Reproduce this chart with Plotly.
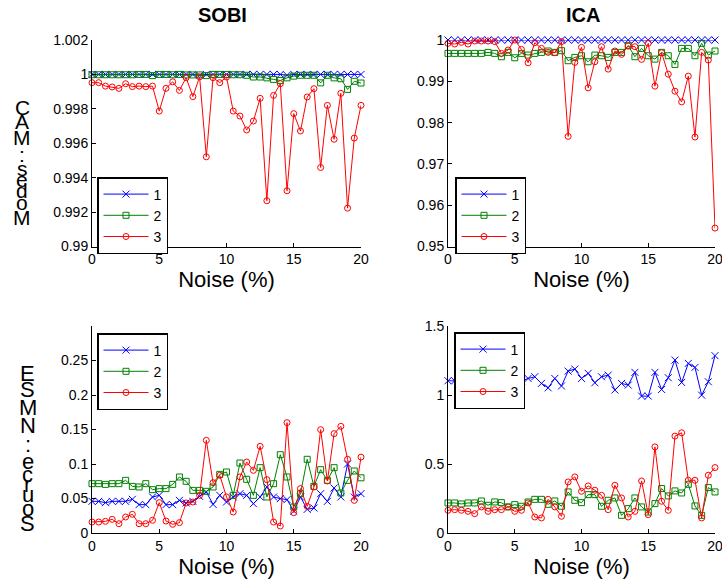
import plotly.graph_objects as go

noise = [0, 0.5, 1, 1.5, 2, 2.5, 3, 3.5, 4, 4.5, 5, 5.5, 6, 6.5, 7, 7.5, 8, 8.5, 9, 9.5,
         10, 10.5, 11, 11.5, 12, 12.5, 13, 13.5, 14, 14.5, 15, 15.5, 16, 16.5, 17, 17.5, 18, 18.5, 19, 19.5, 20]

# SOBI - Modes : MAC
sobi_mac_1 = [1.0, 1.0, 1.0, 1.0, 1.0, 1.0, 1.0, 1.0, 1.0, 1.0, 1.0, 1.0, 1.0, 1.0, 1.0, 1.0, 0.99995, 1.0, 1.0, 1.0,
              1.0, 1.0, 1.0, 1.0, 1.0, 1.0, 1.0, 1.0, 1.0, 0.99995, 1.0, 1.0, 1.0, 1.0, 1.0, 1.0, 1.0, 1.0, 1.0, 1.0, 1.0]
sobi_mac_2 = [0.99998, 0.99998, 0.99998, 0.99998, 0.99998, 0.99998, 0.99998, 1.0, 1.0, 0.99993, 1.0, 1.0, 0.99998, 1.0, 0.99997, 0.99997, 0.99997, 0.99993, 1.0, 1.0,
              1.0, 0.99998, 0.99998, 0.99995, 0.99985, 0.99985, 0.9998, 0.99971, 0.99965, 0.9998, 0.9999, 0.99995, 0.99995, 0.99995, 0.99951, 0.99995, 0.9998, 0.99975, 0.99913, 0.9996, 0.9995]
sobi_mac_3 = [0.99952, 0.99952, 0.99932, 0.99927, 0.99919, 0.99946, 0.99929, 0.99932, 0.99929, 0.99932, 0.99787, 0.99919, 0.99957, 0.99907, 0.99981, 0.99871, 0.99986, 0.99521, 0.99981, 0.99952,
              0.99985, 0.99787, 0.99758, 0.99677, 0.99729, 0.99861, 0.99266, 0.99878, 0.99946, 0.99324, 0.99772, 0.99671, 0.99869, 0.99917, 0.99459, 0.9982, 0.99623, 0.9989, 0.99223, 0.9963, 0.9982]

# ICA - Modes : MAC
ica_mac_1 = [1.0] * 41
ica_mac_2 = [0.99676, 0.99676, 0.99676, 0.99676, 0.99676, 0.99676, 0.997, 0.99676, 0.99595, 0.997, 0.9957, 0.99676, 0.99635, 0.99676, 0.997, 0.99733, 0.997, 0.99741, 0.99498, 0.99579,
             0.99619, 0.99473, 0.99635, 0.99619, 0.99579, 0.997, 0.997, 0.99862, 0.99595, 0.99797, 0.99619, 0.99538, 0.997, 0.99619, 0.99408, 0.99797, 0.99797, 0.99619, 0.99919, 0.99635, 0.99733]
ica_mac_3 = [0.99919, 0.99903, 0.99943, 0.99903, 0.99976, 0.99976, 0.99976, 0.9996, 0.99676, 0.99757, 1.0, 0.99773, 0.99449, 0.99935, 0.99797, 0.997, 0.99692, 0.9996, 0.97666, 0.99457,
             0.99822, 0.98841, 0.99473, 0.99838, 0.99295, 0.99733, 0.99652, 0.99854, 0.99838, 0.9953, 0.99919, 0.98882, 0.99692, 0.99173, 0.9876, 0.98501, 0.99125, 0.9765, 0.997, 0.99514, 0.95446]

# SOBI - Source : NMSE
sobi_nmse_1 = [0.0459, 0.0459, 0.044, 0.0459, 0.0459, 0.0459, 0.0488, 0.0411, 0.0411, 0.0522, 0.0546, 0.0411, 0.0411, 0.0473, 0.0435, 0.0459, 0.0531, 0.0594, 0.0415, 0.0546,
               0.0449, 0.0522, 0.057, 0.0546, 0.0425, 0.0522, 0.0667, 0.0522, 0.0498, 0.0483, 0.0319, 0.0522, 0.0343, 0.0362, 0.057, 0.0459, 0.0652, 0.0522, 0.1, 0.052, 0.057]
sobi_nmse_2 = [0.0715, 0.0715, 0.0705, 0.0715, 0.0715, 0.0763, 0.0676, 0.0667, 0.0715, 0.0628, 0.0643, 0.0643, 0.0705, 0.0812, 0.0749, 0.0618, 0.0618, 0.0604, 0.0667, 0.085,
               0.0884, 0.0546, 0.1014, 0.0778, 0.0546, 0.0947, 0.0522, 0.0715, 0.1135, 0.0812, 0.0377, 0.057, 0.1068, 0.0676, 0.0918, 0.0763, 0.0947, 0.058, 0.0763, 0.0899, 0.08]
sobi_nmse_3 = [0.0159, 0.0159, 0.0169, 0.0198, 0.0135, 0.0232, 0.0271, 0.0135, 0.0135, 0.0184, 0.044, 0.0174, 0.0126, 0.015, 0.0435, 0.0449, 0.0546, 0.1343, 0.0729, 0.0836,
               0.0522, 0.0304, 0.0812, 0.1029, 0.0908, 0.1256, 0.0773, 0.0159, 0.0101, 0.1599, 0.0295, 0.0643, 0.0386, 0.0667, 0.1498, 0.0754, 0.144, 0.1546, 0.1068, 0.0473, 0.11]

# ICA - Source : NMSE
ica_nmse_1 = [1.103, 1.103, 1.1, 1.1, 1.1, 1.1, 1.1, 1.1, 1.1, 1.1, 1.1, 1.1, 1.12, 1.132, 1.084, 1.052, 1.12, 1.065, 1.173, 1.188,
              1.12, 1.157, 1.089, 1.132, 1.144, 1.036, 1.084, 1.072, 1.164, 0.992, 0.992, 1.164, 1.04, 1.125, 1.253, 1.091, 1.229, 1.2, 0.999, 1.096, 1.285]
ica_nmse_2 = [0.2178, 0.2178, 0.2105, 0.2178, 0.2178, 0.232, 0.2008, 0.225, 0.22, 0.189, 0.2057, 0.1936, 0.225, 0.244, 0.244, 0.208, 0.232, 0.1936, 0.2976, 0.237,
              0.22, 0.278, 0.278, 0.1936, 0.237, 0.254, 0.128, 0.1766, 0.254, 0.189, 0.152, 0.213, 0.322, 0.2686, 0.305, 0.29, 0.353, 0.196, 0.128, 0.329, 0.2976]
ica_nmse_3 = [0.1645, 0.169, 0.1645, 0.157, 0.14, 0.189, 0.157, 0.169, 0.169, 0.189, 0.157, 0.1645, 0.218, 0.116, 0.109, 0.244, 0.189, 0.121, 0.37, 0.4065,
              0.302, 0.341, 0.31, 0.273, 0.169, 0.346, 0.254, 0.116, 0.157, 0.377, 0.133, 0.624, 0.23, 0.1645, 0.702, 0.726, 0.382, 0.382, 0.109, 0.4186, 0.474]

series_names = ["1", "2", "3"]
col_titles = ["SOBI", "ICA"]
x_title = "Noise (%)"
ylabels = ["Modes : MAC", "Source : NMSE"]

W, H = 722, 584
FONT = "Liberation Sans, Arial, sans-serif"

colors = ["#0000FF", "#008000", "#FF0000"]
markers = [dict(symbol="x-thin", size=7, line=dict(width=1, color=colors[0])),
           dict(symbol="square-open", size=6, line=dict(width=1), color=colors[1]),
           dict(symbol="circle-open", size=6, line=dict(width=1), color=colors[2])]

panels = [
    ("x", "y", [sobi_mac_1, sobi_mac_2, sobi_mac_3], "legend"),
    ("x2", "y2", [ica_mac_1, ica_mac_2, ica_mac_3], "legend2"),
    ("x3", "y3", [sobi_nmse_1, sobi_nmse_2, sobi_nmse_3], "legend3"),
    ("x4", "y4", [ica_nmse_1, ica_nmse_2, ica_nmse_3], "legend4"),
]

fig = go.Figure()
for xa, ya, data, lg in panels:
    for i, vals in enumerate(data):
        fig.add_trace(go.Scatter(x=noise, y=vals, xaxis=xa, yaxis=ya, mode="lines+markers",
                                 name=series_names[i], legend=lg,
                                 line=dict(color=colors[i], width=1), marker=markers[i],
                                 cliponaxis=False))

xdom_l = [92 / W, 361 / W]
xdom_r = [448 / W, 715 / W]
ydom_t = [1 - 246.5 / H, 1 - 40 / H]
ydom_b = [1 - 533 / H, 1 - 326 / H]

axis_common = dict(showline=True, linecolor="black", linewidth=1, ticks="inside", ticklen=4,
                   tickcolor="black", showgrid=False, zeroline=False, mirror=False, automargin=False,
                   ticklabeloverflow="allow",
                   tickfont=dict(family=FONT, size=14, color="black"))

xaxis_common = dict(axis_common, range=[0, 20], tickvals=[0, 5, 10, 15, 20], ticktext=["0", "5", "10", "15", "20"],
                    title=dict(text=x_title, font=dict(family=FONT, size=22, color="black"), standoff=3))

fig.update_layout(
    width=W, height=H, margin=dict(l=0, r=0, t=0, b=0, autoexpand=False),
    paper_bgcolor="white", plot_bgcolor="white",
    font=dict(family=FONT, color="black"),
    xaxis=dict(xaxis_common, domain=xdom_l, anchor="y"),
    xaxis2=dict(xaxis_common, domain=xdom_r, anchor="y2"),
    xaxis3=dict(xaxis_common, domain=xdom_l, anchor="y3"),
    xaxis4=dict(xaxis_common, domain=xdom_r, anchor="y4"),
    yaxis=dict(axis_common, domain=ydom_t, anchor="x", range=[0.99, 1.002],
               tickvals=[0.99, 0.992, 0.994, 0.996, 0.998, 1.0, 1.002],
               ticktext=["0.99", "0.992", "0.994", "0.996", "0.998", "1", "1.002"]),
    yaxis2=dict(axis_common, domain=ydom_t, anchor="x2", range=[0.95, 1.0],
                tickvals=[0.95, 0.96, 0.97, 0.98, 0.99, 1.0],
                ticktext=["0.95", "0.96", "0.97", "0.98", "0.99", "1"]),
    yaxis3=dict(axis_common, domain=ydom_b, anchor="x3", range=[0, 0.3],
                tickvals=[0, 0.05, 0.1, 0.15, 0.2, 0.25],
                ticktext=["0", "0.05", "0.1", "0.15", "0.2", "0.25"]),
    yaxis4=dict(axis_common, domain=ydom_b, anchor="x4", range=[0, 1.5],
                tickvals=[0, 0.5, 1, 1.5], ticktext=["0", "0.5", "1", "1.5"]),
)

leg_common = dict(bgcolor="white", bordercolor="black", borderwidth=1.5, xanchor="left", yanchor="top",
                  font=dict(family=FONT, size=14, color="black"), itemwidth=45, tracegroupgap=0)
fig.update_layout(
    legend=dict(leg_common, x=97 / W, y=1 - 177 / H),
    legend2=dict(leg_common, x=455 / W, y=1 - 177 / H),
    legend3=dict(leg_common, x=97 / W, y=1 - 333 / H),
    legend4=dict(leg_common, x=454 / W, y=1 - 332 / H),
)

# column titles
for title, cx in zip(col_titles, [222, 583]):
    fig.add_annotation(text="<b>%s</b>" % title, x=cx / W, y=1 - 15 / H, xref="paper", yref="paper",
                       xanchor="center", yanchor="middle",
                       showarrow=False, font=dict(family=FONT, size=20, color="black"))

# stacked y labels: upright characters stacked bottom-to-top at their text advance positions
ADV = {"M": 0.833, "o": 0.556, "d": 0.556, "e": 0.556, "s": 0.5, " ": 0.278, ":": 0.278, "A": 0.667,
       "C": 0.722, "S": 0.667, "u": 0.556, "r": 0.333, "c": 0.5, "N": 0.722, "E": 0.667}

def stacked(label, xc, ybottom, ytop, size):
    centers, pos = [], 0.0
    for ch in label:
        w = ADV.get(ch, 0.556)
        centers.append(pos + w / 2)
        pos += w
    c0, c1 = centers[0], centers[-1]
    for ch, c in zip(label, centers):
        if ch == " ":
            continue
        ypx = ybottom - (c - c0) / (c1 - c0) * (ybottom - ytop)
        fig.add_annotation(text=ch, x=xc / W, y=1 - ypx / H, xref="paper", yref="paper",
                           xanchor="center", yanchor="middle",
                           showarrow=False, font=dict(family=FONT, size=size, color="black"))

stacked(ylabels[0], 22, 217, 107, 21)
stacked(ylabels[1], 28, 523, 373, 22)

fig.write_html("out.html")
